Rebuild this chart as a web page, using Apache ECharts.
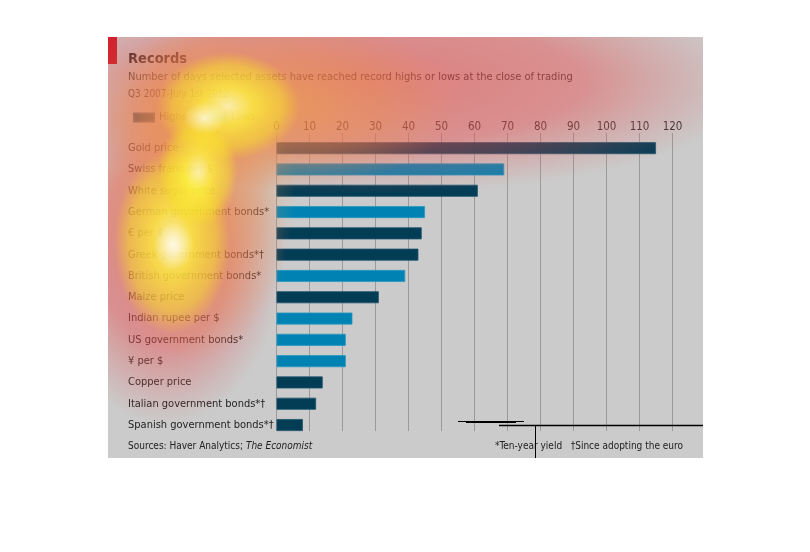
<!DOCTYPE html>
<html><head><meta charset="utf-8">
<script src="https://cdn.jsdelivr.net/npm/echarts@6.0.0/dist/echarts.min.js"></script>
<style>html,body{margin:0;padding:0;background:#fff}#c{width:810px;height:552px}</style>
</head><body><div id="c"></div>
<script>
const categories = ["Gold price","Swiss franc per $","White sugar price","German government bonds*","€ per $","Greek government bonds*†","British government bonds*","Maize price","Indian rupee per $","US government bonds*","¥ per $","Copper price","Italian government bonds*†","Spanish government bonds*†"];
const highs = [115,'-',61,'-',44,43,'-',31,'-','-','-',14,12,8];
const lows  = ['-',69,'-',45,'-','-',39,'-',23,21,21,'-','-','-'];
const axisMin = 0, axisMax = 120, axisStep = 10;

const FONT = '"DejaVu Sans Condensed","DejaVu Sans",sans-serif';
const DARK = '#033c55', LIGHT = '#0083b3';

function blob(cx, cy, rx, ry, stops){
  return {type:'circle', silent:true, z:100, x:cx, y:cy, scaleX:rx/100, scaleY:ry/100,
    shape:{cx:0, cy:0, r:100},
    style:{fill:{type:'radial', x:0.5, y:0.5, r:0.5, colorStops:stops}}};
}
const redStops = [{offset:0,color:'rgba(235,70,70,0.58)'},{offset:0.55,color:'rgba(232,80,80,0.48)'},{offset:1,color:'rgba(225,100,100,0)'}];
const orangeStops = [{offset:0,color:'rgba(245,165,60,0.6)'},{offset:0.6,color:'rgba(240,150,70,0.35)'},{offset:1,color:'rgba(240,150,70,0)'}];
const yellowStops = [{offset:0,color:'rgba(255,255,190,0.82)'},{offset:0.35,color:'rgba(255,250,60,0.7)'},{offset:0.75,color:'rgba(250,235,40,0.45)'},{offset:1,color:'rgba(250,220,40,0)'}];
const whiteStops = [{offset:0,color:'rgba(255,255,255,0.7)'},{offset:1,color:'rgba(255,255,230,0)'}];

const chart = echarts.init(document.getElementById('c'), null, {renderer:'canvas'});
chart.setOption({
  backgroundColor:'#ffffff',
  animation:false,
  textStyle:{fontFamily:FONT},
  legend:{left:128, top:107, itemWidth:20, itemHeight:8, itemGap:18, icon:'rect',
    textStyle:{fontFamily:FONT, fontSize:11, color:'#333'}, data:['Highs','Lows']},
  grid:[
    {left:276.5, top:133, width:396, height:298},
    {left:276.5, top:137.5, width:396, height:298.2}
  ],
  xAxis:[
    {gridIndex:0, type:'value', min:axisMin, max:axisMax, interval:axisStep, position:'top',
      axisLine:{show:false}, axisTick:{show:false},
      axisLabel:{margin:0, fontSize:11.5, color:'#333', fontFamily:FONT},
      splitLine:{lineStyle:{color:'#9a9a9a', width:1}}},
    {gridIndex:1, type:'value', min:axisMin, max:axisMax, show:false}
  ],
  yAxis:[
    {gridIndex:0, type:'category', data:categories, show:false},
    {gridIndex:1, type:'category', data:categories, inverse:true,
      axisLine:{show:false}, axisTick:{show:false},
      axisLabel:{align:'left', margin:148.5, fontSize:11, color:'#222', fontFamily:FONT}}
  ],
  series:[
    {name:'Highs', type:'bar', xAxisIndex:1, yAxisIndex:1, stack:'r', data:highs, barWidth:12,
      itemStyle:{color:DARK, borderColor:'#1f5570', borderWidth:0.8}},
    {name:'Lows', type:'bar', xAxisIndex:1, yAxisIndex:1, stack:'r', data:lows, barWidth:12,
      itemStyle:{color:LIGHT, borderColor:'#2a98c2', borderWidth:0.8}}
  ],
  graphic:[
    {type:'rect', z:-1, silent:true, shape:{x:108, y:37, width:595, height:421}, style:{fill:'#cbcbcb'}},
    {type:'rect', z:1, silent:true, shape:{x:108, y:37, width:9, height:27}, style:{fill:'#c8101e'}},
    {type:'text', z:5, x:128, y:59, style:{text:'Records', fontFamily:FONT, fontWeight:'bold', fontSize:14.5, fill:'#222', verticalAlign:'middle'}},
    {type:'text', z:5, x:128, y:77, style:{text:'Number of days selected assets have reached record highs or lows at the close of trading', fontFamily:FONT, fontSize:11, fill:'#333', verticalAlign:'middle'}},
    {type:'text', z:5, x:128, y:94, style:{text:'Q3 2007-July 1st 2012', fontFamily:FONT, fontSize:10, fill:'#333', verticalAlign:'middle'}},
    {type:'text', z:5, x:128, y:446, style:{fontFamily:FONT, fontSize:10, fill:'#222', verticalAlign:'middle',
      text:'{a|Sources: Haver Analytics; }{b|The Economist}', rich:{a:{fontFamily:FONT, fontSize:10, fill:'#222'}, b:{fontFamily:FONT, fontSize:10, fontStyle:'italic', fill:'#222'}}}},
    {type:'text', z:5, x:683, y:446, style:{text:'*Ten-year yield   †Since adopting the euro', fontFamily:FONT, fontSize:10, fill:'#222', align:'right', verticalAlign:'middle'}},
    blob(370, 82, 390, 112, redStops),
    blob(165, 250, 120, 175, redStops),
    blob(270, 105, 190, 85, orangeStops),
    blob(195, 190, 100, 170, orangeStops),
    blob(172, 242, 58, 92, yellowStops),
    blob(228, 106, 72, 54, yellowStops),
    blob(198, 172, 40, 55, yellowStops),
    blob(174, 246, 20, 24, whiteStops),
    blob(205, 118, 22, 16, whiteStops),
    {type:'rect', z:101, silent:true, shape:{x:0, y:0, width:108, height:552}, style:{fill:'#fff'}},
    {type:'rect', z:101, silent:true, shape:{x:0, y:0, width:810, height:37}, style:{fill:'#fff'}},
    {type:'rect', z:101, silent:true, shape:{x:703, y:0, width:107, height:552}, style:{fill:'#fff'}},
    {type:'rect', z:101, silent:true, shape:{x:0, y:458, width:810, height:94}, style:{fill:'#fff'}},
    {type:'line', z:102, silent:true, shape:{x1:458, y1:421.5, x2:524, y2:421.5}, style:{stroke:'#000', lineWidth:1}},
    {type:'line', z:102, silent:true, shape:{x1:466, y1:422.5, x2:516, y2:422.5}, style:{stroke:'#000', lineWidth:1}},
    {type:'line', z:102, silent:true, shape:{x1:499, y1:425.5, x2:703, y2:425.5}, style:{stroke:'#000', lineWidth:1.5}},
    {type:'line', z:102, silent:true, shape:{x1:535.5, y1:425, x2:535.5, y2:458}, style:{stroke:'#000', lineWidth:1}}
  ]
});
</script></body></html>
